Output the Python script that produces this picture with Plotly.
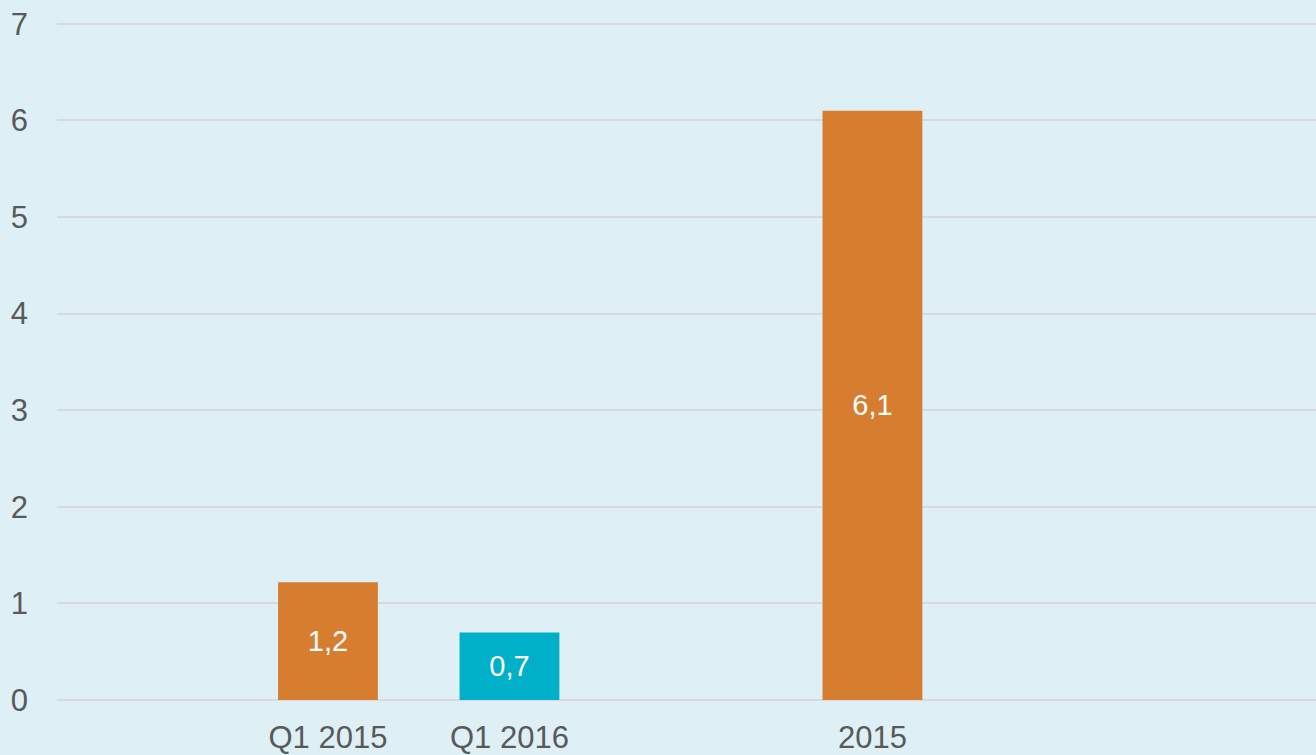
import plotly.graph_objects as go

# Data
categories = ["Q1 2015", "Q1 2016", "2015"]
values = [1.22, 0.70, 6.10]
bar_colors = ["#D67D30", "#00B0C8", "#D67D30"]
y_ticks = [0, 1, 2, 3, 4, 5, 6, 7]

# Layout slot index for each category (gap slot between quarters and year)
slots = [1, 2, 4]

FONT = "Liberation Sans, Arial, sans-serif"

fig = go.Figure(
    go.Bar(
        x=slots,
        y=values,
        width=0.55,
        marker=dict(color=bar_colors, line=dict(width=0)),
        texttemplate="%{y:.1f}",
        textposition="inside",
        insidetextanchor="middle",
        textfont=dict(family=FONT, size=29, color="#FFFFFF"),
        hoverinfo="skip",
    )
)

fig.update_layout(
    width=1316,
    height=755,
    margin=dict(l=57, r=0, t=19, b=55),
    paper_bgcolor="#DEF0F6",
    plot_bgcolor="#DEF0F6",
    separators=",.",
    showlegend=False,
    font=dict(family=FONT, size=31, color="#595959"),
)

fig.update_xaxes(
    range=[-0.493, 6.444],
    tickvals=slots,
    ticktext=categories,
    showgrid=False,
    zeroline=False,
    showline=False,
    ticks="",
    ticklabelstandoff=16,
    tickfont=dict(family=FONT, size=31, color="#595959"),
)

fig.update_yaxes(
    range=[0, 7.05],
    tickvals=y_ticks,
    showgrid=True,
    gridcolor="#D9D9D9",
    gridwidth=2,
    zeroline=True,
    zerolinecolor="#D9D9D9",
    zerolinewidth=2,
    showline=False,
    ticks="",
    ticklabelstandoff=28,
    tickfont=dict(family=FONT, size=31, color="#595959"),
)

fig.write_html(
    "out.html",
    config={"displayModeBar": False},
    post_script="document.body.style.margin='0';document.body.style.background='#DEF0F6';",
)
